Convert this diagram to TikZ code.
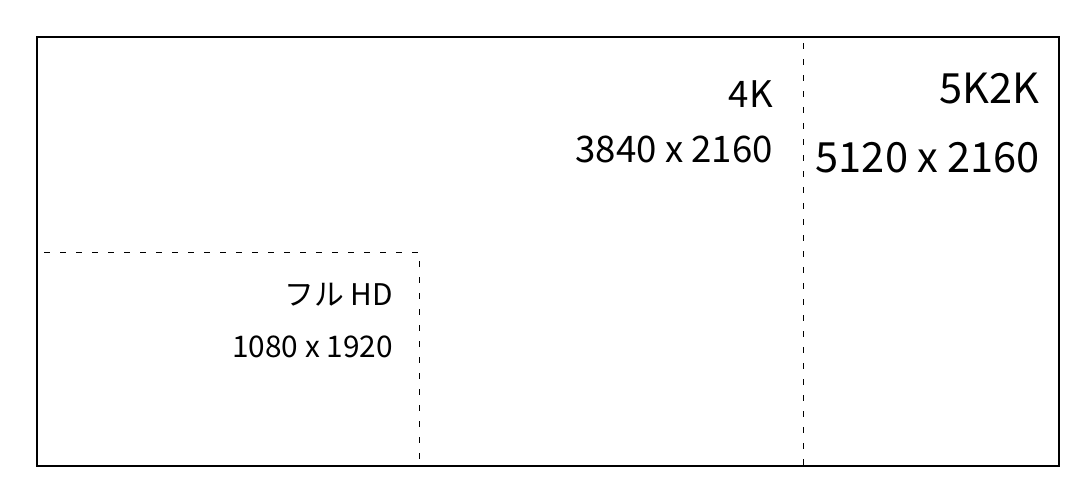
\documentclass[tikz,border=0pt]{standalone}
\usepackage{fontspec}
\setmainfont{Noto Sans CJK JP}
\usepackage{tikz}
\usetikzlibrary{positioning}

\begin{document}
\begin{tikzpicture}[x=1pt, y=-1pt,
    txt/.style={inner sep=0pt, anchor=base east, font=\fontsize{29.8}{34}\selectfont},
    midtxt/.style={inner sep=0pt, anchor=base east, font=\fontsize{36.6}{42}\selectfont},
    bigtxt/.style={inner sep=0pt, anchor=base east, font=\fontsize{41.6}{48}\selectfont},
    area/.style={line width=1pt, dash pattern=on 6pt off 10pt}]
    \useasboundingbox (0,0) rectangle (1088,496);
    % 1. Khung ngoài
    \draw[line width=2pt] (37,37) rectangle (1059,466);
    
    % 2. Các vùng nét đứt
    \draw[area] (803,43) -- (803,466);
    \draw[area] (44,252) -- (419,252) -- (419,466);
    
    % 3. Nhãn
    \node[midtxt] (lbl4k) at (773,107) {4K};
    \node[midtxt] (res4k) at (773,162) {3840 x 2160};
    \node[bigtxt] (lbl5k) at (1040,103) {5K2K};
    \node[bigtxt] (res5k) at (1040,172) {5120 x 2160};
    \node[txt] (lblfhd) at (393,305) {フル HD};
    \node[txt] (resfhd) at (393,357) {1080 x 1920};
\end{tikzpicture}
\end{document}
